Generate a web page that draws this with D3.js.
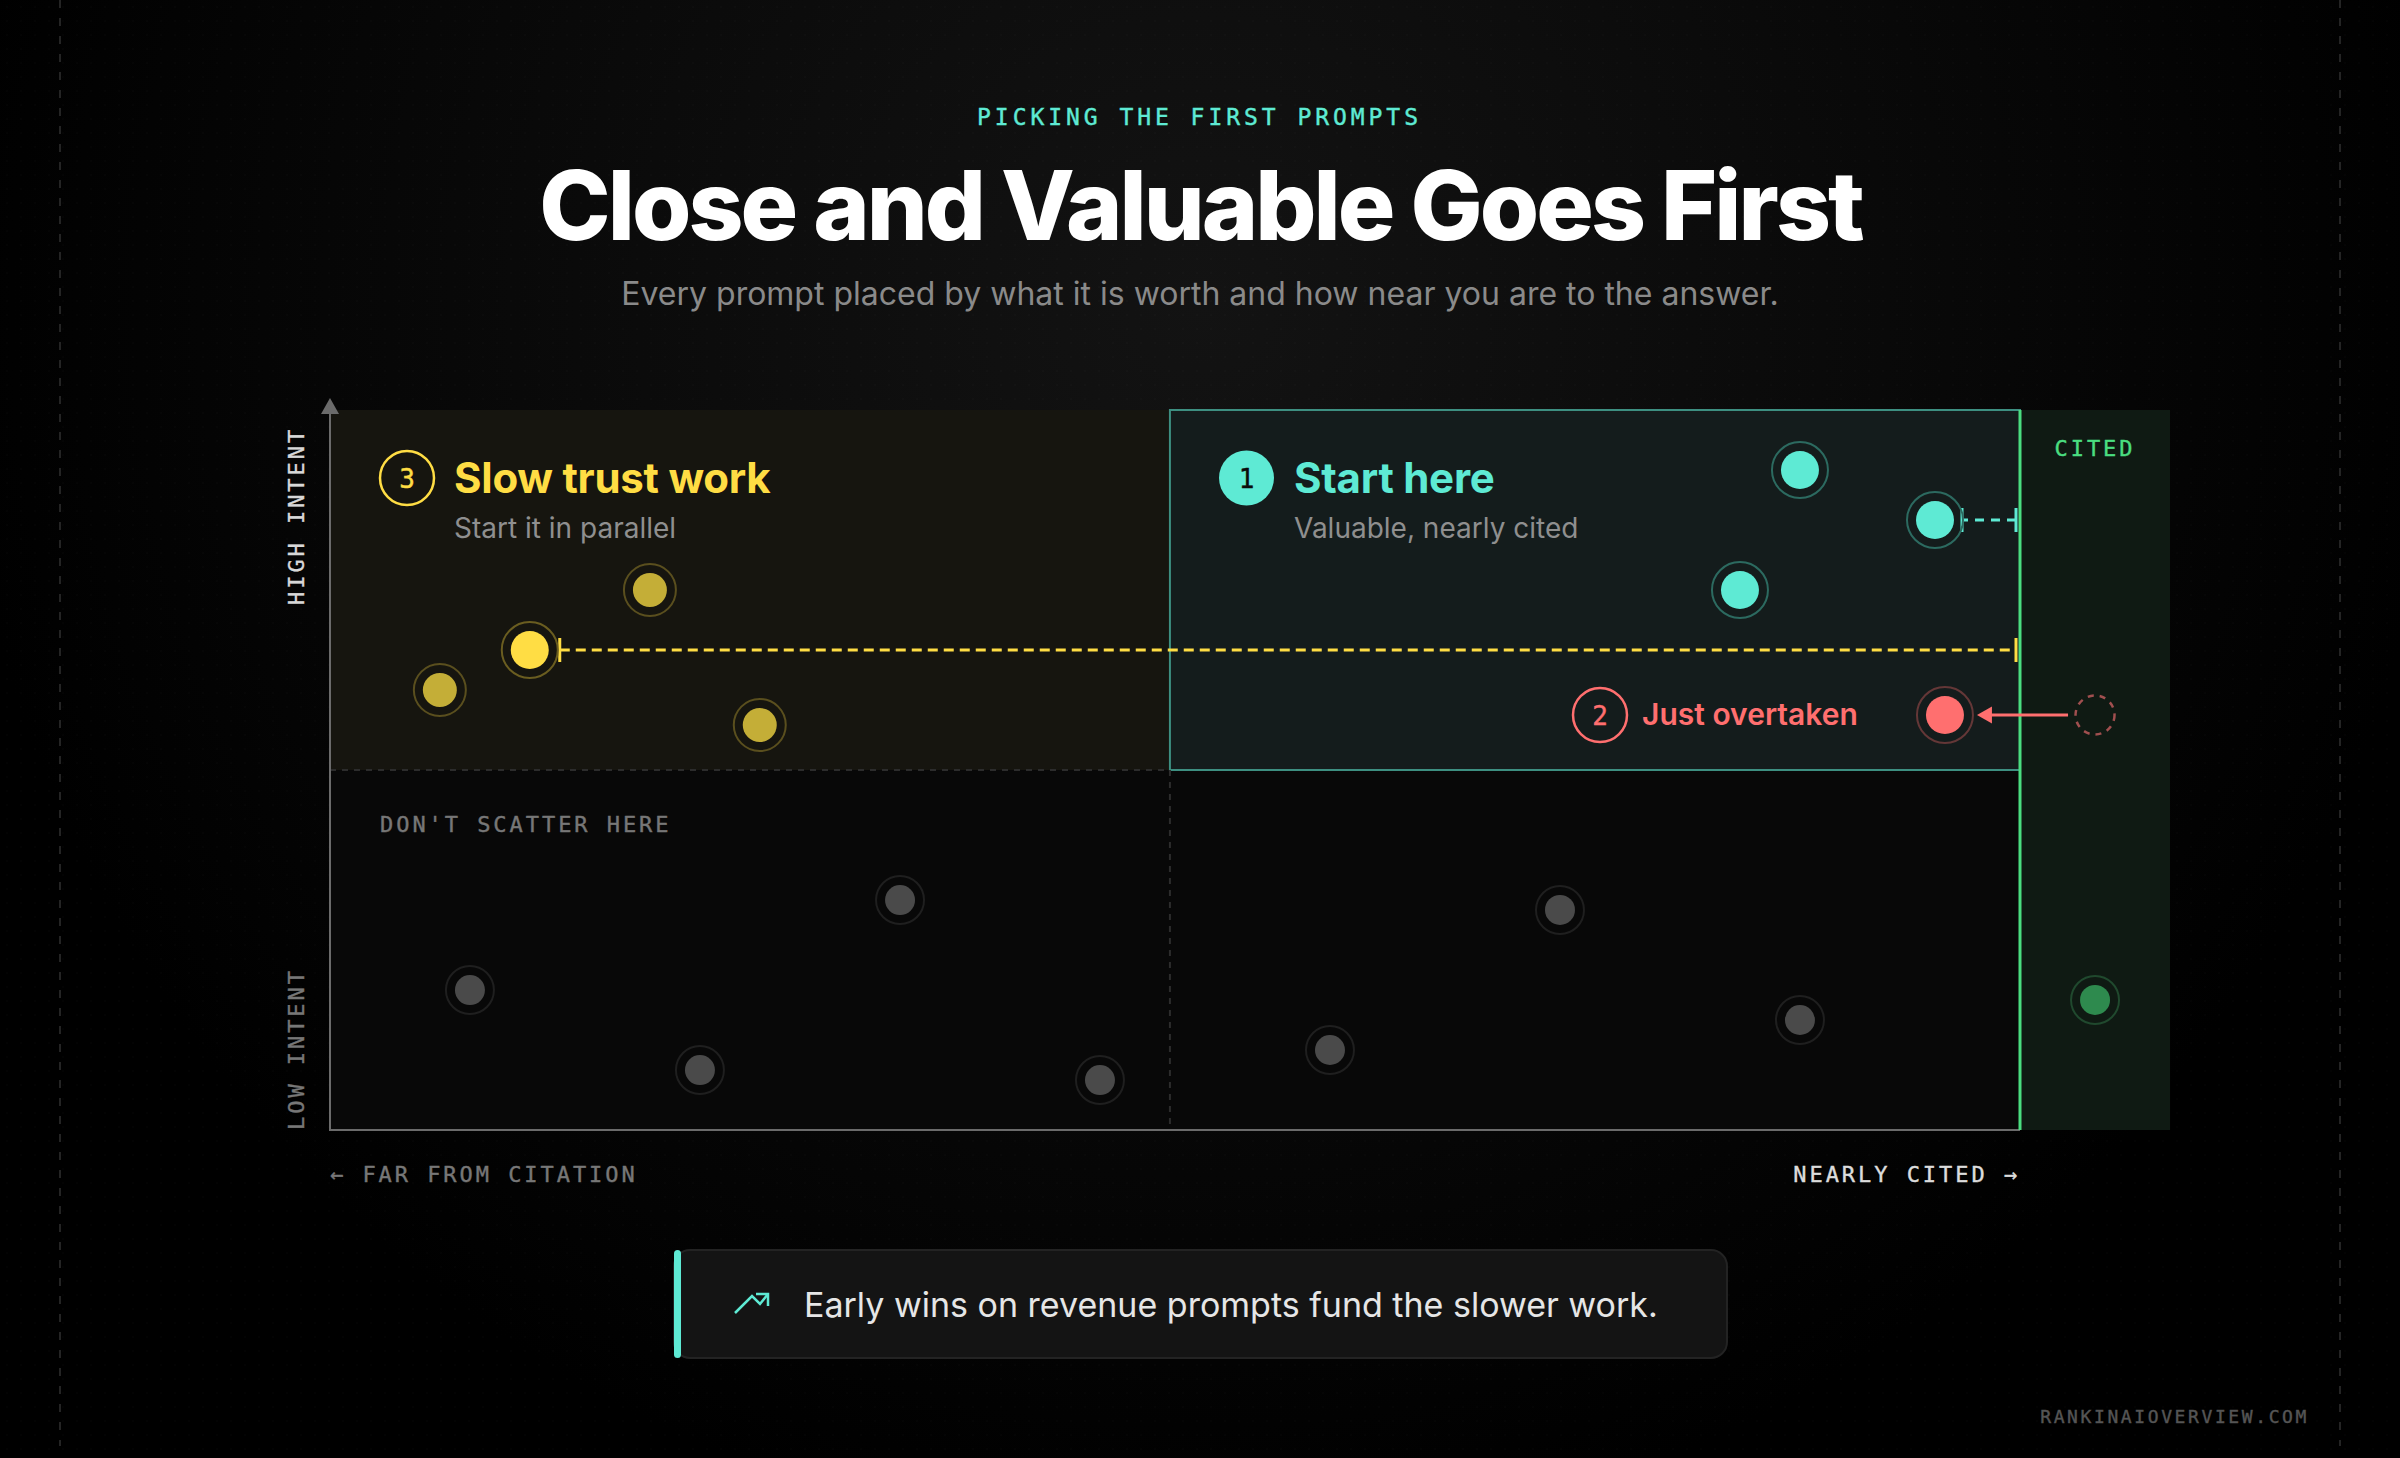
<!DOCTYPE html>
<html><head><meta charset="utf-8">
<script src="https://cdn.jsdelivr.net/npm/d3@7"></script>
<style>html,body{margin:0;padding:0;background:#000;width:2400px;height:1458px;overflow:hidden}svg{display:block}</style>
</head><body><svg id="c" width="2400" height="1458"></svg>
<script>
const MONO = "'DejaVu Sans Mono',monospace", SANS = "Inter,sans-serif";
const eyebrow = "PICKING THE FIRST PROMPTS";
const title = "Close and Valuable Goes First";
const subtitle = "Every prompt placed by what it is worth and how near you are to the answer.";
const callout = "Early wins on revenue prompts fund the slower work.";
const watermark = "RANKINAIOVERVIEW.COM";
const yellowX = [18.93, 6.50, 25.43];
const yellowY = [75.00, 61.11, 56.25];
const yellowHiX = [11.82];
const yellowHiY = [66.67];
const tealX = [86.98, 94.97, 83.43];
const tealY = [91.67, 84.72, 75.00];
const redX = [95.56];
const redY = [57.64];
const ghostX = [104.44];
const grayX = [8.28, 21.89, 33.73, 45.56, 59.17, 72.78, 86.98];
const grayY = [19.44, 8.33, 31.94, 6.94, 11.11, 30.56, 15.28];
const greenX = [104.44];
const greenY = [18.06];
const midX = 49.7, midY = 50, citedMax = 108.88;

const svg = d3.select("#c");
const x = d3.scaleLinear().domain([0,100]).range([330,2020]);
const y = d3.scaleLinear().domain([0,100]).range([1130,410]);
const defs = svg.append("defs");
const bg = defs.append("radialGradient").attr("id","bg").attr("gradientUnits","userSpaceOnUse")
  .attr("cx",1200).attr("cy",300).attr("r",1250);
bg.append("stop").attr("offset",0).attr("stop-color","#131313");
bg.append("stop").attr("offset",0.45).attr("stop-color","#0b0b0b");
bg.append("stop").attr("offset",1).attr("stop-color","#000");
const pat = defs.append("pattern").attr("id","dots").attr("width",14).attr("height",14).attr("patternUnits","userSpaceOnUse");
pat.append("circle").attr("cx",7).attr("cy",7).attr("r",0.8).attr("fill","rgba(255,255,255,0.025)");

svg.append("rect").attr("width",2400).attr("height",1458).attr("fill","url(#bg)");
svg.append("rect").attr("width",2400).attr("height",1458).attr("fill","url(#dots)");
[60,2340].forEach(v=>svg.append("line").attr("x1",v).attr("x2",v).attr("y1",0).attr("y2",1446)
  .attr("stroke","#242424").attr("stroke-width",2).attr("stroke-dasharray","8 10"));

const text=(s,px,py,o={})=>{
  const t=svg.append("text").text(s).attr("x",px).attr("y",py)
  .attr("font-family",o.f||SANS).attr("font-size",o.s).attr("font-weight",o.w||400).attr("fill",o.c)
  .attr("text-anchor",o.a||"start").attr("letter-spacing",o.ls||0).attr("transform",o.t||null);
  if(o.f===MONO) t.attr("stroke",o.c).attr("stroke-width",0.4);
  return t;
};

text(eyebrow,1199.5,125,{f:MONO,s:23,c:"#5eead4",a:"middle",ls:3.95});
text(title,1200.5,240,{s:96,w:800,c:"#fff",a:"middle",ls:-2.96});
text(subtitle,1200,305,{s:32,c:"#8a8a8a",a:"middle"});

// Quadrants
const band=(x0,x1,y0,y1,fill)=>svg.append("rect").attr("x",x(x0)).attr("width",x(x1)-x(x0))
  .attr("y",y(y1)).attr("height",y(y0)-y(y1)).attr("fill",fill);
band(0,100,0,midY,"#080808");
band(0,midX,midY,100,"#16150f");
band(midX,100,midY,100,"#141c1c").attr("stroke","#3d8f81").attr("stroke-width",2);
band(100,citedMax,0,100,"#0f1a13");
svg.append("line").attr("x1",x(0)).attr("x2",x(midX)).attr("y1",y(midY)).attr("y2",y(midY))
  .attr("stroke","#2c2c2c").attr("stroke-width",2).attr("stroke-dasharray","6 6");
svg.append("line").attr("x1",x(midX)).attr("x2",x(midX)).attr("y1",y(midY)).attr("y2",y(0))
  .attr("stroke","#2c2c2c").attr("stroke-width",2).attr("stroke-dasharray","6 6");
// Axes
svg.append("line").attr("x1",x(0)).attr("x2",x(0)).attr("y1",y(0)+1).attr("y2",y(100)-4).attr("stroke","#6b6b6b").attr("stroke-width",2);
svg.append("line").attr("x1",x(0)).attr("x2",x(100)).attr("y1",y(0)).attr("y2",y(0)).attr("stroke","#6b6b6b").attr("stroke-width",2);
svg.append("path").attr("d",d3.line()([[x(0)-9,y(100)+4],[x(0),y(100)-12],[x(0)+9,y(100)+4]])+"Z").attr("fill","#6b6b6b");
svg.append("line").attr("x1",x(100)).attr("x2",x(100)).attr("y1",y(100)).attr("y2",y(0)).attr("stroke","#4ade80").attr("stroke-width",3);

const LS=2.95;
text("HIGH INTENT",0,0,{f:MONO,s:22,c:"#d8d8d8",ls:LS,t:"translate(304,605) rotate(-90)"});
text("LOW INTENT",0,0,{f:MONO,s:22,c:"#777",ls:LS,t:"translate(304,1130) rotate(-90)"});
text("← FAR FROM CITATION",330,1182,{f:MONO,s:22,c:"#777",ls:LS});
text("NEARLY CITED →",2020,1182,{f:MONO,s:22,c:"#dcdcdc",ls:LS,a:"end"});
text("DON'T SCATTER HERE",380,832,{f:MONO,s:22,c:"#777",ls:LS});
text("CITED",x(104.44),456,{f:MONO,s:22,c:"#4ade80",ls:LS,a:"middle"});

// Connectors
const hy=yellowHiY[0], hx=yellowHiX[0];
const conn=(x0px,x1px,py,col,dash,off)=>{
  svg.append("line").attr("x1",x0px).attr("x2",x1px).attr("y1",py).attr("y2",py).attr("stroke",col).attr("stroke-width",3).attr("stroke-dasharray",dash).attr("stroke-dashoffset",off||0);
  [x0px,x1px].forEach(v=>svg.append("line").attr("x1",v).attr("x2",v).attr("y1",py-12).attr("y2",py+12).attr("stroke",col).attr("stroke-width",3));
};
conn(x(hx)+30,2016,y(hy),"#ffdd44","10 6");
conn(x(tealX[1])+27,2016,y(tealY[1]),"#5eead4","9 7",3);

// Arrow
svg.append("line").attr("x1",x(ghostX[0])-27).attr("x2",x(redX[0])+46).attr("y1",y(redY[0])).attr("y2",y(redY[0])).attr("stroke","#ff6f6f").attr("stroke-width",3);
svg.append("path").attr("d",d3.line()([[x(redX[0])+32,y(redY[0])],[x(redX[0])+47,y(redY[0])-8.5],[x(redX[0])+47,y(redY[0])+8.5]])+"Z").attr("fill","#ff6f6f");
svg.append("circle").attr("cx",x(ghostX[0])).attr("cy",y(redY[0])).attr("r",19.5).attr("fill","none").attr("stroke","#a04f4f").attr("stroke-width",2.5).attr("stroke-dasharray","6 6");

// Points
const dots=(xs,ys,r,rr,col,ringCol)=>{
  const g=svg.append("g").selectAll("g").data(d3.zip(xs,ys)).join("g").attr("transform",d=>`translate(${x(d[0])},${y(d[1])})`);
  g.append("circle").attr("r",rr).attr("fill","none").attr("stroke",ringCol).attr("stroke-width",2);
  g.append("circle").attr("r",r).attr("fill",col);
};
dots(grayX,grayY,15,24,"#4a4a4a","#1f1f1f");
dots(greenX,greenY,15,24,"#2e8a4e","#20492e");
dots(yellowX,yellowY,17,26,"#c4ae37","#5a4f1e");
dots(yellowHiX,yellowHiY,19,28,"#ffdd44","#6a5d20");
dots(tealX,tealY,19,28,"#5eead4","#2c6a60");
dots(redX,redY,19,28,"#ff6f6f","#643737");

// Quadrant labels
const badge=(cx,cy,n,col,fill)=>{
  svg.append("circle").attr("cx",cx).attr("cy",cy).attr("r",fill?27.5:27).attr("fill",fill||"none").attr("stroke",fill?"none":col).attr("stroke-width",2.5);
  text(n,cx,cy+10,{f:MONO,s:26,c:fill?"#0b0b0b":col,a:"middle"});
};
badge(407,478,"3","#ffdd44");
text("Slow trust work",454,493,{s:42,w:700,c:"#ffdd44",ls:-0.25});
text("Start it in parallel",454,538,{s:28,c:"#8f8f8f"});
badge(1246.5,478,"1","#5eead4","#5eead4");
text("Start here",1294,493,{s:42,w:700,c:"#5eead4",ls:-0.25});
text("Valuable, nearly cited",1294,538,{s:28,c:"#8f8f8f"});
badge(1600,715,"2","#ff6f6f");
text("Just overtaken",1642,725,{s:30,w:600,c:"#ff6f6f"});

// Callout
svg.append("rect").attr("x",674).attr("y",1250).attr("width",1053).attr("height",108).attr("rx",16).attr("fill","#141414").attr("stroke","#232323").attr("stroke-width",2);
svg.append("rect").attr("x",674).attr("y",1250).attr("width",7).attr("height",108).attr("rx",3.5).attr("fill","#5eead4");
svg.append("path").attr("d",d3.line()([[735,1313],[752,1296],[760,1304],[768,1294]])).attr("fill","none").attr("stroke","#5eead4").attr("stroke-width",2.5);
svg.append("path").attr("d",d3.line()([[756,1294],[768,1294],[768,1306]])).attr("fill","none").attr("stroke","#5eead4").attr("stroke-width",2.5);
text(callout,804,1317,{s:34,c:"#e6e6e6"});
text(watermark,2309,1423,{f:MONO,s:18,c:"#555",ls:2.6,a:"end"});
</script></body></html>
